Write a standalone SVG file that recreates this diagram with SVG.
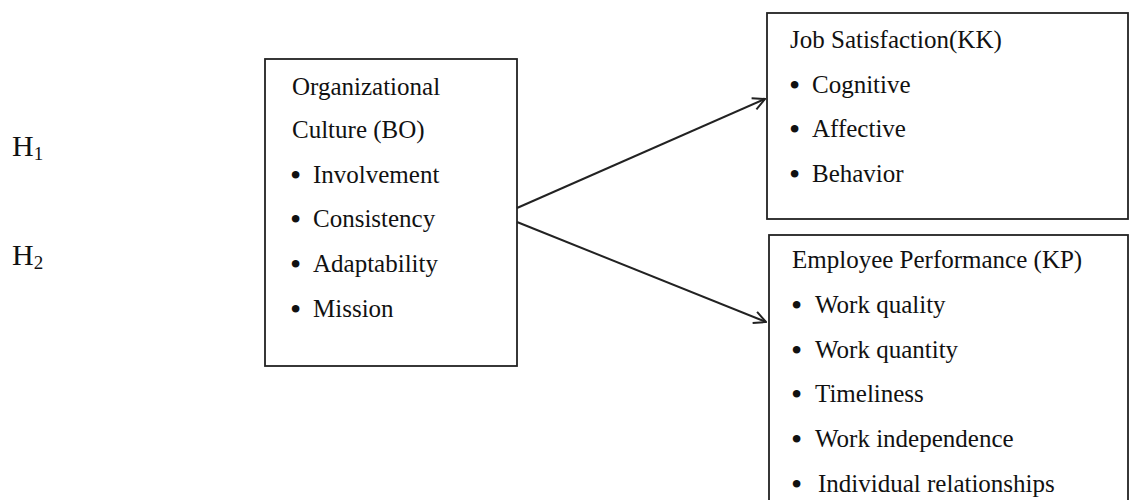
<svg xmlns="http://www.w3.org/2000/svg" width="1131" height="500" viewBox="0 0 1131 500">
  <style>
    .box { fill: #fff; stroke: #222; stroke-width: 1.8; }
    .t { font-family: "Liberation Serif", "Times New Roman", serif; font-size: 25px; fill: #111; }
    .b { font-family: "Liberation Serif", "Times New Roman", serif; font-size: 32px; fill: #111; }
    .h { font-family: "Liberation Serif", "Times New Roman", serif; font-size: 30px; fill: #111; }
    .sub { font-size: 19px; }
    .conn { fill: none; stroke: #222; stroke-width: 2; }
  </style>
  <defs>
    <marker id="arrow" viewBox="0 0 14 14" refX="13" refY="7" markerWidth="14" markerHeight="14" markerUnits="userSpaceOnUse" orient="auto">
      <path d="M1,1 L13,7 L1,13" fill="none" stroke="#222" stroke-width="2"/>
    </marker>
  </defs>
  <rect width="1131" height="500" fill="#fff"/>

  <!-- hypothesis labels -->
  <g id="hypotheses">
    <text class="h" x="12" y="156">H<tspan class="sub" dy="4">1</tspan></text>
    <text class="h" x="12" y="265">H<tspan class="sub" dy="4">2</tspan></text>
  </g>

  <!-- independent variable -->
  <g id="organizational-culture">
    <rect class="box" x="265" y="59" width="252" height="307"/>
    <text class="t" x="292" y="95">Organizational</text>
    <text class="t" x="292" y="138">Culture (BO)</text>
    <text class="b" x="290" y="186">•</text><text class="t" x="313" y="183">Involvement</text>
    <text class="b" x="290" y="230">•</text><text class="t" x="313" y="227">Consistency</text>
    <text class="b" x="290" y="275">•</text><text class="t" x="313" y="272">Adaptability</text>
    <text class="b" x="290" y="320">•</text><text class="t" x="313" y="317">Mission</text>
  </g>

  <!-- dependent variable 1 -->
  <g id="job-satisfaction">
    <rect class="box" x="767" y="13" width="361" height="206"/>
    <text class="t" x="790" y="48">Job Satisfaction(KK)</text>
    <text class="b" x="789" y="96">•</text><text class="t" x="812" y="93">Cognitive</text>
    <text class="b" x="789" y="140">•</text><text class="t" x="812" y="137">Affective</text>
    <text class="b" x="789" y="185">•</text><text class="t" x="812" y="182">Behavior</text>
  </g>

  <!-- dependent variable 2 -->
  <g id="employee-performance">
    <rect class="box" x="769" y="235" width="359" height="280"/>
    <text class="t" x="792" y="268">Employee Performance (KP)</text>
    <text class="b" x="791" y="316">•</text><text class="t" x="815" y="313">Work quality</text>
    <text class="b" x="791" y="361">•</text><text class="t" x="815" y="358">Work quantity</text>
    <text class="b" x="791" y="405">•</text><text class="t" x="815" y="402">Timeliness</text>
    <text class="b" x="791" y="450">•</text><text class="t" x="815" y="447">Work independence</text>
    <text class="b" x="791" y="495">•</text><text class="t" x="818" y="492">Individual relationships</text>
  </g>

  <!-- connectors -->
  <g id="connectors">
    <line class="conn" x1="517" y1="208" x2="765" y2="99" marker-end="url(#arrow)"/>
    <line class="conn" x1="517" y1="222" x2="766" y2="322" marker-end="url(#arrow)"/>
  </g>
</svg>
